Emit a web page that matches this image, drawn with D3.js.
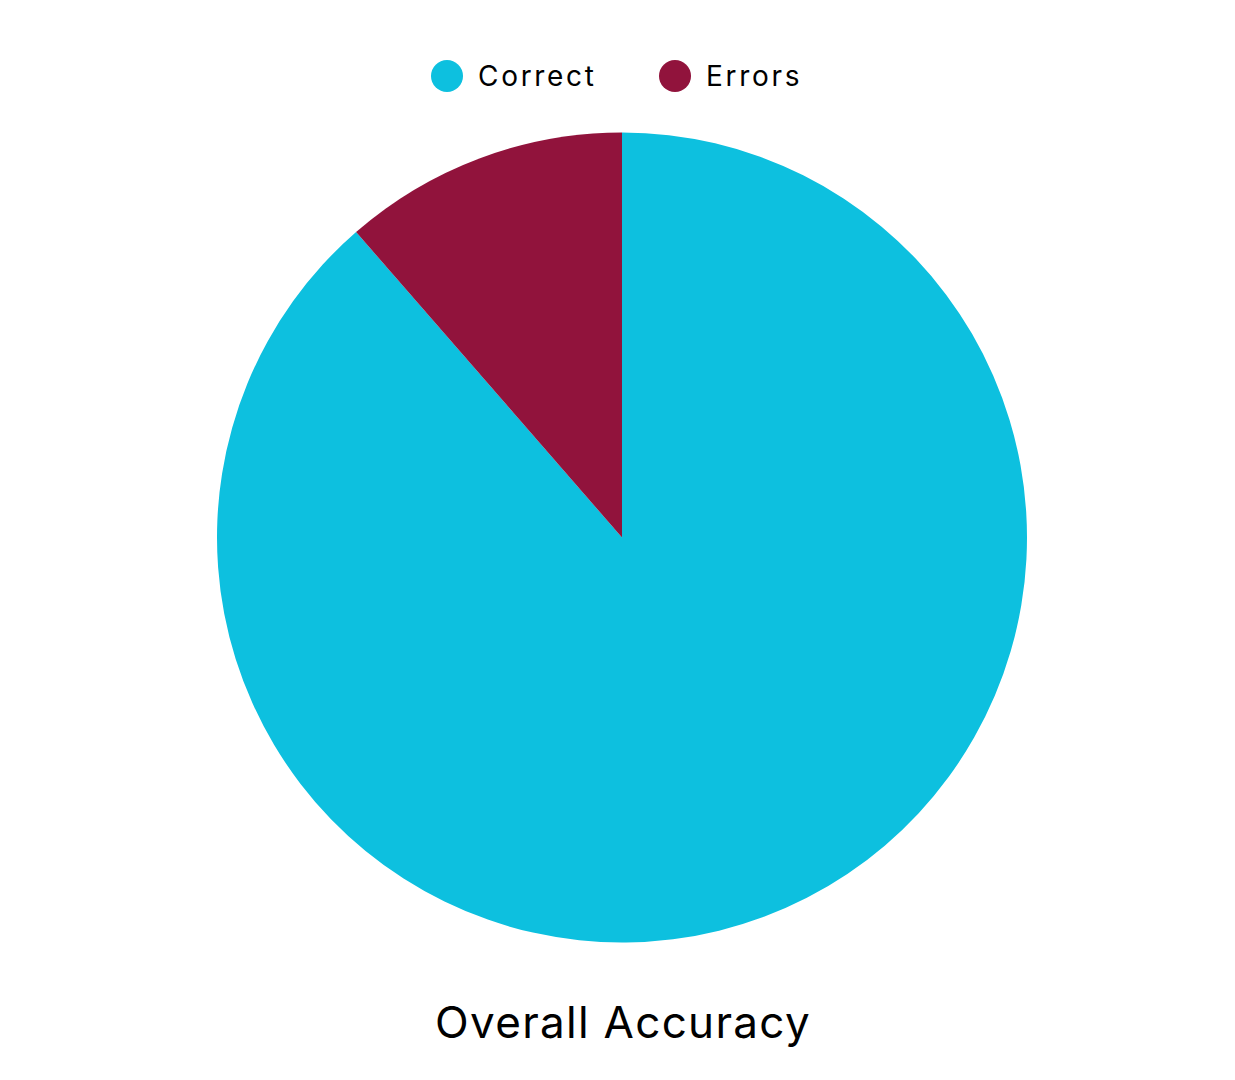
<!DOCTYPE html>
<html>
<head>
<meta charset="utf-8">
<script src="https://cdn.jsdelivr.net/npm/d3@7"></script>
<style>
  body { margin: 0; background: #fff; }
  svg { display: block; font-family: Inter, "Open Sans", sans-serif; }
</style>
</head>
<body>
<div id="chart"></div>
<script>
  var categories = ['Correct', 'Errors'],
    values = [88.6, 11.4],
    colors = ['#0DC0DF', '#91133C'],
    title = 'Overall Accuracy';

  var width = 1235,
    height = 1080,
    center = { x: 622, y: 537.5 },
    radius = 405;

  var chart = d3.select('#chart')
    .append('svg')
    .attr('width', width)
    .attr('height', height);

  chart.append('rect')
    .attr('width', width)
    .attr('height', height)
    .style('fill', '#fff');

  var color = d3.scaleOrdinal().domain(categories).range(colors);

  var pie = d3.pie().sort(null).value(function (d) { return d.value; });
  var arc = d3.arc().innerRadius(0).outerRadius(radius);

  chart.append('g')
    .attr('transform', 'translate(' + center.x + ',' + center.y + ')')
    .selectAll('path')
    .data(pie(categories.map(function (c, i) { return { name: c, value: values[i] }; })))
    .enter()
    .append('path')
    .attr('d', arc)
    .style('fill', function (d) { return color(d.data.name); });

  // legend
  var legendX = [447, 675];
  var legend = chart.append('g')
    .selectAll('.legend-item')
    .data(categories)
    .enter()
    .append('g')
    .classed('legend-item', true)
    .attr('transform', function (d, i) { return 'translate(' + legendX[i] + ',76)'; });

  legend.append('circle')
    .attr('r', 16)
    .style('fill', function (d) { return color(d); });

  legend.append('text')
    .attr('x', 31)
    .attr('dy', '0.36em')
    .style('font-size', '28px')
    .style('letter-spacing', '2.7px')
    .style('fill', '#000')
    .text(function (d) { return d; });

  chart.append('text')
    .attr('x', center.x + 1)
    .attr('y', 1038)
    .attr('text-anchor', 'middle')
    .style('font-size', '44px')
    .style('letter-spacing', '1.3px')
    .style('fill', '#000')
    .text(title);
</script>
</body>
</html>
